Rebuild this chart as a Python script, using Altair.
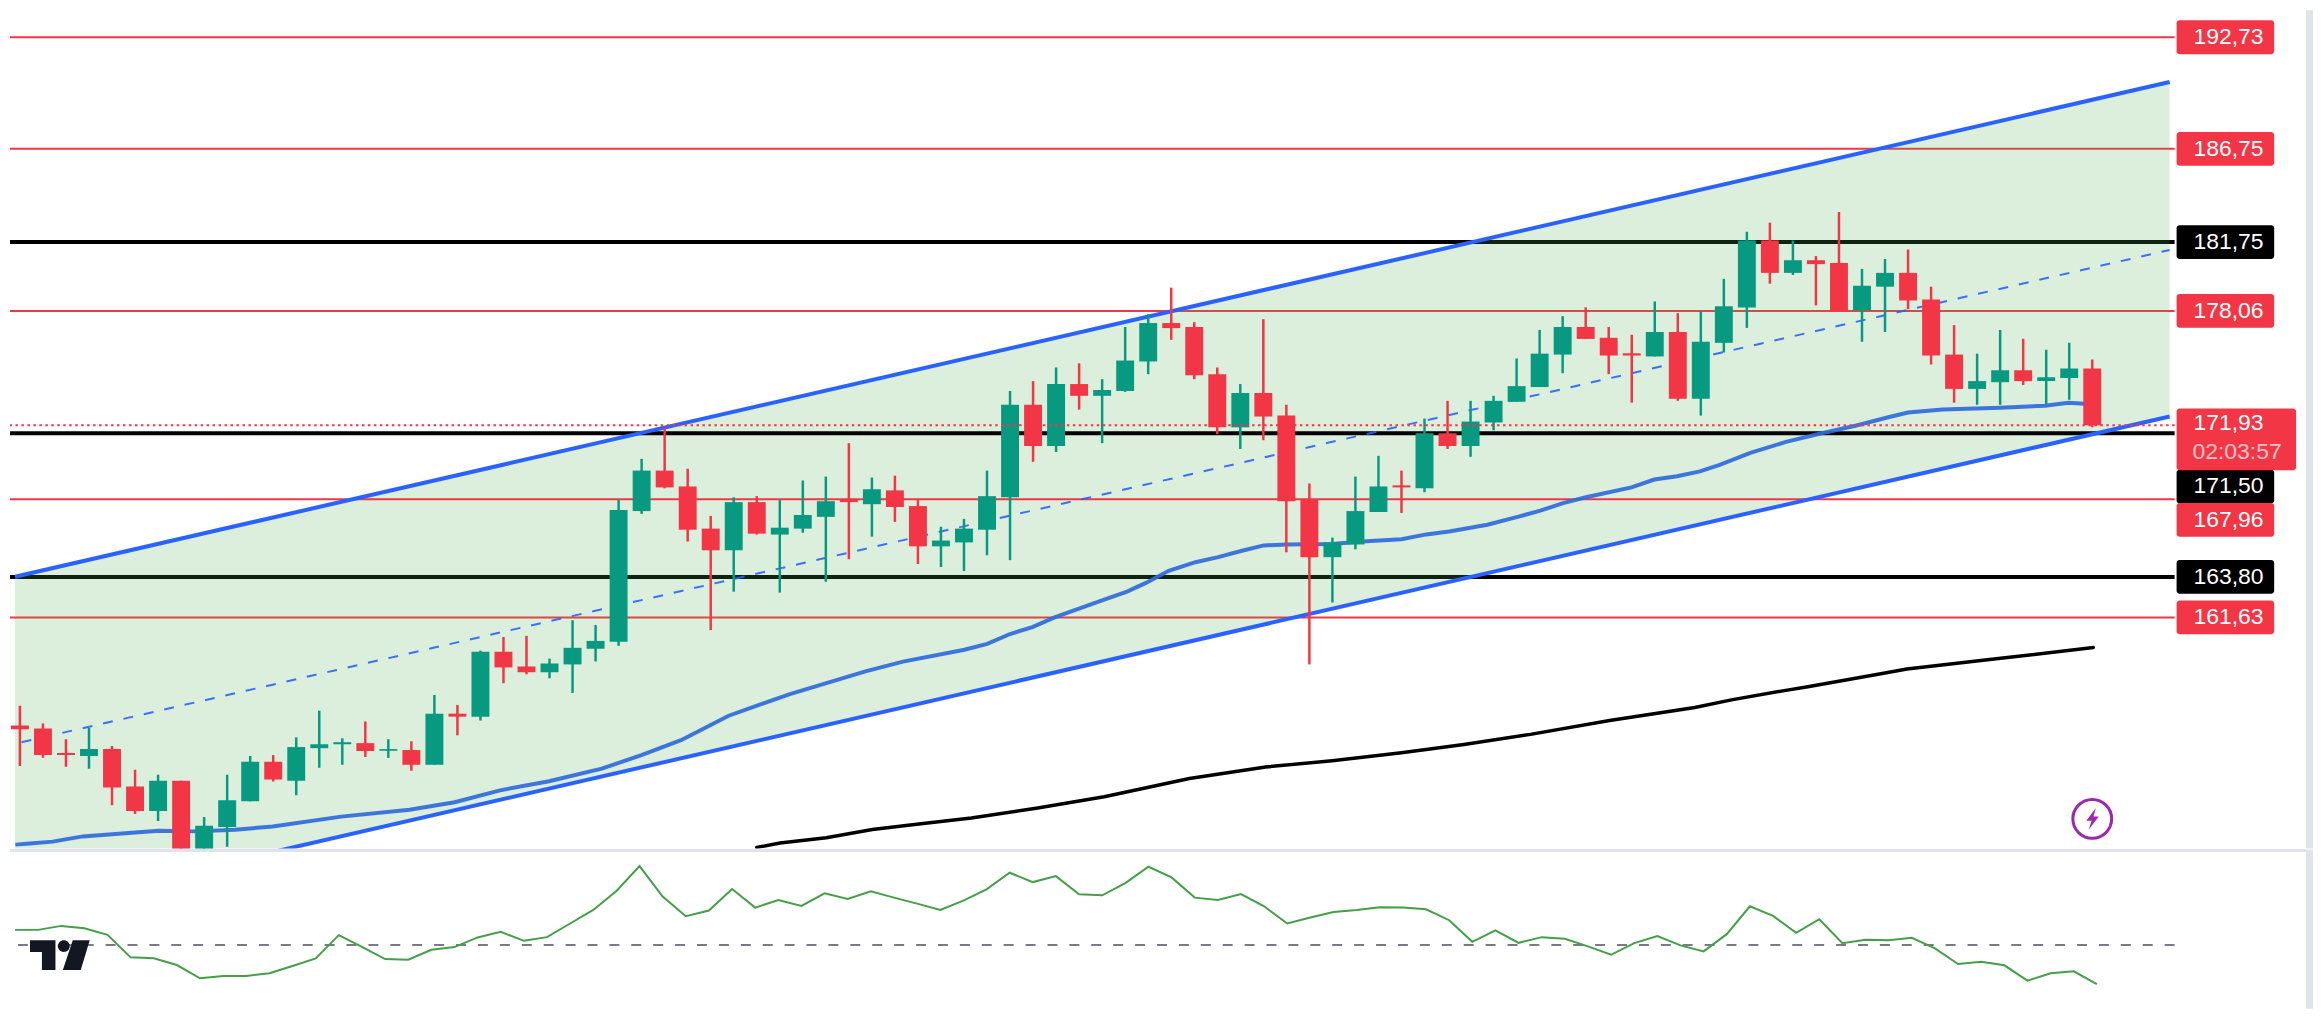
import altair as alt
import pandas as pd

RED = "#f23645"
GREEN = "#089981"
BLUE = "#2962ff"
LAV = "#e0e3eb"
GRID = "#eff1f5"
FONT = "Liberation Sans"

opens = [155.84,155.68,154.36,154.20,154.57,152.57,151.25,152.88,149.00,150.40,151.78,153.89,152.88,154.62,154.83,154.89,154.48,154.52,153.73,156.47,
         156.31,159.79,159.00,158.69,159.11,159.95,160.32,167.33,169.50,168.65,166.39,165.23,167.81,166.07,166.39,167.02,167.97,167.70,168.44,167.60,
         165.44,165.65,166.33,168.07,173.03,170.82,174.14,173.51,173.77,175.35,177.41,177.20,174.67,171.82,173.66,172.45,167.97,164.86,165.54,167.28,
         168.71,168.55,171.50,170.82,172.08,173.19,173.98,175.72,177.20,176.62,175.79,175.62,176.93,173.35,176.35,178.25,181.84,180.10,180.78,180.63,
         178.09,179.36,180.10,178.67,175.72,173.88,174.24,174.88,174.30,174.46,174.98]
highs = [156.89,155.94,155.10,155.70,154.73,153.46,153.20,152.88,150.93,153.20,154.20,154.25,155.20,156.63,155.15,156.05,155.10,154.99,157.47,156.94,
         159.85,160.58,160.64,159.42,161.48,161.22,167.92,170.13,171.77,169.60,167.07,168.07,168.13,167.92,168.97,169.18,170.97,169.13,169.23,167.92,
         166.49,166.91,169.50,173.77,174.30,175.03,175.25,174.40,177.20,177.88,179.31,177.46,175.03,174.14,177.62,173.03,168.81,165.91,169.18,170.29,
         169.50,172.29,173.24,173.24,173.51,175.51,177.04,177.78,178.25,177.20,176.78,178.57,177.94,178.04,179.78,182.31,182.79,181.84,181.00,183.37,
         180.31,180.84,181.36,179.36,177.30,175.77,177.04,176.57,175.98,176.35,175.46]
lows = [153.67,154.10,153.62,153.52,151.56,151.09,150.72,148.80,148.80,149.33,151.78,152.83,152.09,153.57,153.73,154.15,154.10,153.41,153.73,155.31,
        156.10,158.10,158.58,158.37,157.58,159.27,160.11,167.18,168.55,165.70,160.95,163.01,166.07,162.96,166.17,163.54,164.75,165.96,166.75,164.49,
        164.33,164.12,164.96,164.70,169.97,170.50,172.77,170.97,173.72,174.67,176.51,174.40,171.45,170.66,171.13,165.12,159.11,162.43,165.28,167.28,
        167.23,168.34,170.66,170.24,171.66,173.19,173.98,174.72,176.56,174.67,173.14,175.62,173.24,172.45,175.83,177.15,179.52,179.99,178.36,178.04,
        176.41,176.93,178.15,175.19,173.14,173.03,173.03,174.09,173.07,173.30,171.82]
closes = [155.63,154.25,154.25,154.57,152.51,151.25,152.88,149.00,150.46,151.83,153.89,152.94,154.68,154.83,154.94,154.47,154.57,153.73,156.47,156.31,
          159.79,158.95,158.69,159.16,160.00,160.37,167.39,169.50,168.60,166.33,165.23,167.81,166.12,166.44,167.12,167.86,167.81,168.50,167.55,165.44,
          165.75,166.39,168.13,173.03,170.82,174.14,173.51,173.82,175.40,177.41,177.14,174.61,171.82,173.66,172.40,167.86,164.86,165.65,167.33,168.65,
          168.60,171.50,170.82,172.13,173.24,174.03,175.77,177.20,176.56,175.67,175.67,176.93,173.35,176.41,178.31,181.84,180.10,180.78,180.57,178.04,
          179.41,180.10,178.62,175.67,173.88,174.30,174.88,174.30,174.51,174.98,171.93]

ma50_i = [-0.2,0.43,1.42,2.73,4.86,6.03,7.66,9.34,10.98,13.95,16.92,18.88,20.85,22.98,25.27,26.99,28.71,30.78,33.44,36.72,38.35,41.02,42.01,43.0,43.97,44.96,47.09,48.08,48.9,49.89,51.05,52.04,53.03,54.02,55.0,56.99,58.28,60.0,61.08,62.07,63.73,65.04,66.03,67.02,68.01,69.99,70.98,71.97,72.96,73.82,75.15,76.7,78.25,79.76,81.14,82.0,83.5,86.0,87.94,88.97,89.66,90.0]
ma50_p = [149.45,149.51,149.61,149.89,150.09,150.19,150.16,150.25,150.42,150.95,151.32,151.72,152.36,152.85,153.52,154.25,155.05,156.36,157.52,158.74,159.26,159.90,160.21,160.74,161.11,161.64,162.59,163.01,163.48,164.13,164.59,164.86,165.19,165.49,165.54,165.56,165.70,165.82,166.08,166.24,166.60,167.02,167.35,167.76,168.07,168.60,169.02,169.20,169.46,169.81,170.45,171.04,171.50,171.92,172.36,172.61,172.77,172.87,172.98,173.14,173.08,173.08]

ma200_i = [32.0,33.01,35.02,37.02,39.04,41.32,44.2,47.09,50.79,54.1,56.99,60.0,62.71,65.6,69.04,72.74,74.33,76.49,77.65,81.0,81.95,85.83,90.05]
ma200_p = [149.30,149.54,149.82,150.26,150.56,150.88,151.41,152.02,152.99,153.61,153.95,154.38,154.82,155.36,156.10,156.80,157.21,157.68,157.91,158.65,158.86,159.41,160.02]

osc = [1.53,1.53,1.93,1.70,1.03,-1.23,-1.33,-2.00,-3.33,-3.10,-3.10,-2.83,-2.10,-1.33,1.00,-0.17,-1.40,-1.47,-0.47,-0.20,
       0.77,1.33,0.43,0.80,2.17,3.53,5.43,7.93,4.87,2.90,3.47,5.63,3.77,4.53,3.93,5.20,4.63,5.40,4.77,4.17,
       3.53,4.47,5.60,7.27,6.33,6.93,5.10,5.00,6.23,7.87,6.80,4.77,4.53,5.13,3.90,2.17,2.77,3.33,3.53,3.80,
       3.77,3.60,2.50,0.33,1.47,0.23,0.80,0.63,-0.13,-0.97,0.20,0.90,-0.03,-0.63,1.10,3.90,2.93,1.23,2.60,0.20,
       0.53,0.50,0.73,-0.33,-1.90,-1.67,-2.03,-3.57,-2.83,-2.63,-3.93]

channel_i = [-0.2152, 93.36]
channel_top = [163.81, 190.33]
channel_bot = [145.88, 172.40]
mid_i = [0.07, 93.36]
mid_p = [154.94, 181.33]

levels_under_fill = [(186.75, RED, 2), (181.75, "#000000", 4), (178.06, RED, 2), (163.80, "#000000", 4), (161.63, RED, 2), (192.73, RED, 2)]
levels_over_fill = [(171.50, "#000000", 4), (167.96, RED, 2)]

label_text = ["192,73", "186,75", "181,75", "178,06", "171,50", "167,96", "163,80", "161,63"]
label_pos = [192.73, 186.75, 181.75, 178.06, 168.65, 166.86, 163.80, 161.63]
label_col = [RED, RED, "#000000", RED, "#000000", RED, "#000000", RED]

grid_x = [9, 18, 27, 39, 51, 60, 69, 81, 93]
price_ticks = [152, 156, 160, 164, 168, 172, 176, 180, 184, 188, 192]

X_DOM = [-0.2152, 93.36]
Y_DOM = [149.507, 193.917]
O_DOM = [-5.2, 9.6]
PW, PH, OH = 2174, 842, 148

n = len(opens)
candles = pd.DataFrame({
    "i": list(range(n)), "o": opens, "h": highs, "l": lows, "c": closes,
    "dir": ["up" if c >= o else "down" for o, c in zip(opens, closes)],
})
colr = alt.Color("dir:N", scale=alt.Scale(domain=["up", "down"], range=[GREEN, RED]), legend=None)


def xq(field="i"):
    return alt.X(f"{field}:Q", scale=alt.Scale(domain=X_DOM, nice=False, zero=False), axis=None, title=None)


def yq(field="p"):
    return alt.Y(f"{field}:Q", scale=alt.Scale(domain=Y_DOM, nice=False, zero=False), axis=None, title=None)


def hline(levels):
    df = pd.DataFrame(levels, columns=["p", "col", "w"])
    return alt.Chart(df).mark_rule().encode(
        y=yq(), color=alt.Color("col:N", scale=None), strokeWidth=alt.StrokeWidth("w:Q", scale=None))


base_grid = alt.Chart(pd.DataFrame({"i": [0.0, 1.0], "p": [170.0, 171.0]})).mark_point(opacity=0).encode(
    x=alt.X("i:Q", scale=alt.Scale(domain=X_DOM, nice=False, zero=False), title=None,
            axis=alt.Axis(values=grid_x, labels=False, ticks=False, domain=False, grid=True,
                          gridColor=GRID, gridWidth=2, title=None)),
    y=alt.Y("p:Q", scale=alt.Scale(domain=Y_DOM, nice=False, zero=False), title=None,
            axis=alt.Axis(orient="right", values=price_ticks, ticks=False, domain=False, grid=True,
                          gridColor=GRID, gridWidth=2, labelExpr="replace(format(datum.value,'.2f'),'.',',')",
                          labelFont=FONT, labelFontSize=23, labelColor="#131722", labelPadding=19,
                          labelAlign="left", labelBaseline="middle", title=None, minExtent=131, maxExtent=131)),
)

fill = alt.Chart(pd.DataFrame({"i": channel_i, "a": channel_top, "b": channel_bot})).mark_area(
    color="#4caf50", opacity=0.2, clip=True).encode(x=xq(), y=yq("a"), y2="b:Q")
top_line = alt.Chart(pd.DataFrame({"i": channel_i, "p": channel_top})).mark_line(
    color=BLUE, strokeWidth=4, clip=True).encode(x=xq(), y=yq())
bot_line = alt.Chart(pd.DataFrame({"i": channel_i, "p": channel_bot})).mark_line(
    color=BLUE, strokeWidth=4, clip=True).encode(x=xq(), y=yq())
mid_line = alt.Chart(pd.DataFrame({"i": mid_i, "p": mid_p})).mark_line(
    color=BLUE, strokeWidth=2, strokeDash=[10, 11], opacity=0.9, clip=True).encode(x=xq(), y=yq())
ma50 = alt.Chart(pd.DataFrame({"i": ma50_i, "p": ma50_p})).mark_line(
    color="#2f6bdc", strokeWidth=4, opacity=0.92, clip=True).encode(x=xq(), y=yq())
ma200 = alt.Chart(pd.DataFrame({"i": ma200_i, "p": ma200_p})).mark_line(
    color="#000000", strokeWidth=3.5, strokeCap="round", clip=True).encode(x=xq(), y=yq())

wicks = alt.Chart(candles).mark_rule(strokeWidth=2.5, clip=True).encode(x=xq(), y=yq("h"), y2="l:Q", color=colr)
bodies = alt.Chart(candles).mark_bar(size=18, clip=True).encode(x=xq(), y=yq("o"), y2="c:Q", color=colr)
dotted = alt.Chart(pd.DataFrame({"p": [171.93]})).mark_rule(color=RED, strokeWidth=2, strokeDash=[2.5, 3.5]).encode(y=yq())

labels_df = pd.DataFrame({"t": label_text, "p": label_pos, "col": label_col})
boxes = alt.Chart(labels_df).mark_bar(orient="horizontal", height=34, cornerRadius=3).encode(
    x=alt.value(2176), x2=alt.value(2274), y=yq(), color=alt.Color("col:N", scale=None))
box_txt = alt.Chart(labels_df).mark_text(font=FONT, fontSize=23, color="#ffffff", align="left", baseline="middle").encode(
    x=alt.value(2193), y=yq(), text="t:N")
now_box = alt.Chart(pd.DataFrame({"p": [171.18]})).mark_bar(orient="horizontal", height=62, cornerRadius=3, color=RED).encode(
    x=alt.value(2176), x2=alt.value(2296), y=yq())
now_txt = alt.Chart(pd.DataFrame({"p": [171.93], "t": ["171,93"]})).mark_text(
    font=FONT, fontSize=23, color="#ffffff", align="left", baseline="middle", dy=-2).encode(
    x=alt.value(2193), y=yq(), text="t:N")
cd_txt = alt.Chart(pd.DataFrame({"p": [171.93], "t": ["02:03:57"]})).mark_text(
    font=FONT, fontSize=23, color="#ffffff", opacity=0.7, align="left", baseline="middle", dy=27).encode(
    x=alt.value(2192), y=yq(), text="t:N")

BOLT = "M0.3,-0.9 L-0.5,0.15 L-0.05,0.15 L-0.3,0.9 L0.55,-0.2 L0.1,-0.2 Z"
icon_df = pd.DataFrame({"i": [90.0], "p": [150.83]})
ring = alt.Chart(icon_df).mark_point(shape="circle", size=1520, filled=False, color="#9c27b0", strokeWidth=3, opacity=1).encode(x=xq(), y=yq())
bolt = alt.Chart(icon_df).mark_point(shape=BOLT, size=576, filled=True, color="#9c27b0", opacity=1).encode(x=xq(), y=yq())

side_main = alt.Chart(pd.DataFrame({"a": [0]})).mark_rect(color=LAV).encode(
    x=alt.value(2306), x2=alt.value(2313), y=alt.value(0), y2=alt.value(PH))

main = alt.layer(
    base_grid, hline(levels_under_fill), fill, hline(levels_over_fill),
    mid_line, top_line, bot_line, ma200, ma50, wicks, bodies, dotted,
    ring, bolt, boxes, now_box, box_txt, now_txt, cd_txt, side_main,
).properties(width=PW, height=PH)


def yo(field="v"):
    return alt.Y(f"{field}:Q", scale=alt.Scale(domain=O_DOM, nice=False, zero=False), axis=None, title=None)


osc_df = pd.DataFrame({"i": list(range(len(osc))), "v": osc})
base_osc = alt.Chart(pd.DataFrame({"i": [0.0, 1.0], "v": [0.0, 1.0]})).mark_point(opacity=0).encode(
    x=alt.X("i:Q", scale=alt.Scale(domain=X_DOM, nice=False, zero=False), title=None,
            axis=alt.Axis(values=grid_x, labels=False, ticks=False, domain=False, grid=True,
                          gridColor=GRID, gridWidth=2, title=None)),
    y=alt.Y("v:Q", scale=alt.Scale(domain=O_DOM, nice=False, zero=False), title=None,
            axis=alt.Axis(orient="right", values=[0], ticks=False, domain=False, grid=True,
                          gridColor=GRID, gridWidth=2, labelExpr="replace(format(datum.value,'.2f'),'.',',')",
                          labelFont=FONT, labelFontSize=23, labelColor="#131722", labelPadding=19,
                          labelAlign="left", labelBaseline="middle", title=None, minExtent=131, maxExtent=131)),
)
zero = alt.Chart(pd.DataFrame({"v": [0.0]})).mark_rule(color="#787b86", strokeWidth=2, strokeDash=[10, 12]).encode(y=yo())
osc_line = alt.Chart(osc_df).mark_line(color="#43a047", strokeWidth=2, clip=True).encode(x=xq(), y=yo())

LOGO = ("M-1,-0.5 L-0.147,-0.5 L-0.147,0.5 L-0.6,0.5 L-0.6,-0.1 L-1,-0.1 Z "
        "M-0.067,-0.3 a0.2,0.2 0 1,0 0.4,0 a0.2,0.2 0 1,0 -0.4,0 Z "
        "M0.433,-0.5 L1,-0.5 L0.7,0.5 L0.1,0.5 Z")
logo = alt.Chart(pd.DataFrame({"i": [1.94], "v": [-1.0]})).mark_point(
    shape=LOGO, size=3600, filled=True, color="#131722", opacity=1).encode(x=xq(), y=yo())

sep = alt.Chart(pd.DataFrame({"a": [0]})).mark_rule(color=LAV, strokeWidth=3).encode(
    x=alt.value(0), x2=alt.value(2306), y=alt.value(1))
side_osc = alt.Chart(pd.DataFrame({"a": [0]})).mark_rect(color=LAV).encode(
    x=alt.value(2306), x2=alt.value(2313), y=alt.value(0), y2=alt.value(160))

lower = alt.layer(base_osc, zero, osc_line, logo, sep, side_osc).properties(width=PW, height=OH)

chart = alt.vconcat(main, lower, spacing=0).properties(
    padding=0, background="#ffffff"
).configure_view(strokeWidth=0).configure_concat(spacing=0)

chart.save("out.html", embed_options={"renderer": "svg", "actions": False})
